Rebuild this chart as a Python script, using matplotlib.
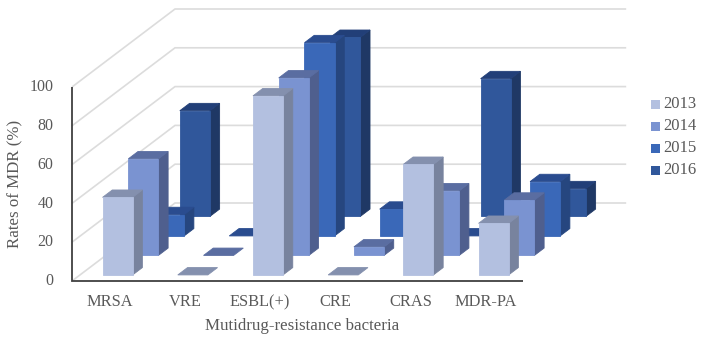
import matplotlib
matplotlib.use("Agg")
import matplotlib.pyplot as plt
from matplotlib.patches import Polygon, Rectangle

categories = ["MRSA", "VRE", "ESBL(+)", "CRE", "CRAS", "MDR-PA"]
years = ["2013", "2014", "2015", "2016"]
rates_2013 = [40, 0, 92.3, 0, 57, 26.6]
rates_2014 = [49.8, 0, 91.5, 4.4, 33.3, 28.5]
rates_2015 = [11, 0, 99.6, 13.8, 0, 28]
rates_2016 = [54.5, 0, 92.3, 0, 71, 14.3]
series = [rates_2013, rates_2014, rates_2015, rates_2016]
y_ticks = [0, 20, 40, 60, 80, 100]

front_colors = ["#B3C0E0", "#7A93D1", "#3A68B8", "#30579B"]
side_colors = ["#78839E", "#4F5F8E", "#26467F", "#1F3865"]
top_colors = ["#8490AE", "#5A6DA1", "#2A4C8F", "#223F78"]

plt.rcParams["font.family"] = ["Liberation Serif", "DejaVu Serif"]
TXT = "#595959"

X0, Y0 = 72.0, 281.0      # front-left floor corner, pixels
CAT_W = 75.2              # pixels per category
PX_PCT = 1.94             # pixels per percentage point
DEP_X, DEP_Y = 103.0, -78.0  # whole depth offset
BAR_FRAC = 0.40           # bar width as share of category
ROW_BAR = 0.377           # bar depth as share of a row
ROW_GAP = (1 - ROW_BAR) / 2


def proj(c, v, d):
    """c in category units, v in percent, d in depth units (0-1)."""
    return (X0 + c * CAT_W + d * DEP_X, Y0 - v * PX_PCT + d * DEP_Y)


fig = plt.figure(figsize=(7.04, 3.41), dpi=100)
ax = fig.add_axes([0, 0, 1, 1])
ax.set_xlim(0, 704)
ax.set_ylim(341, 0)
ax.axis("off")

n = len(categories)
GRID = "#DCDCDC"
for t in y_ticks:
    a, b, c = proj(0, t, 0), proj(0, t, 1), proj(n, t, 1)
    ax.plot([a[0], b[0], c[0]], [a[1], b[1], c[1]], color=GRID, lw=1.2, zorder=1,
            solid_capstyle="butt", solid_joinstyle="miter")
    ax.text(53.5, a[1] + 0.3, str(t), ha="right", va="center", fontsize=11.5, color=TXT)

z = 2
for r in range(3, -1, -1):
    d0 = (r + ROW_GAP) / 4
    d1 = (r + ROW_GAP + ROW_BAR) / 4
    for i in range(n - 1, -1, -1):
        v = series[r][i]
        c0 = i + 0.5 - BAR_FRAC / 2
        c1 = c0 + BAR_FRAC
        front = [proj(c0, 0, d0), proj(c1, 0, d0), proj(c1, v, d0), proj(c0, v, d0)]
        side = [proj(c1, 0, d0), proj(c1, 0, d1), proj(c1, v, d1), proj(c1, v, d0)]
        top = [proj(c0, v, d0), proj(c1, v, d0), proj(c1, v, d1), proj(c0, v, d1)]
        for pts, col in ((side, side_colors[r]), (top, top_colors[r]), (front, front_colors[r])):
            if v == 0 and col != top_colors[r]:
                continue
            ax.add_patch(Polygon(pts, closed=True, facecolor=col, edgecolor=col, lw=0.6,
                                 joinstyle="miter", zorder=z))
        z += 1

AX = "#404040"
p0, p1, p2 = proj(0, 100, 0), proj(0, 0, 0), proj(n, 0, 0)
ax.plot([p0[0], p1[0], p2[0]], [p0[1], p1[1], p2[1]], color=AX, lw=1.3, zorder=z + 1,
        solid_joinstyle="miter", solid_capstyle="butt")

for i, name in enumerate(categories):
    ax.text(proj(i + 0.5, 0, 0)[0], 302, name, ha="center", va="center", fontsize=11.8, color=TXT)

ax.text(302, 326, "Mutidrug-resistance bacteria", ha="center", va="center", fontsize=12.2, color=TXT)
ax.text(15, 184, "Rates of MDR (%)", rotation=90, ha="center", va="center", fontsize=12.2, color=TXT)

for k, year in enumerate(years):
    yc = 104 + k * 22.2
    ax.add_patch(Rectangle((651, yc - 4.5), 9, 9, facecolor=front_colors[k], edgecolor="none"))
    ax.text(663, yc - 0.2, year, ha="left", va="center", fontsize=12, color=TXT)

fig.savefig("out.png", dpi=100, facecolor="white")
